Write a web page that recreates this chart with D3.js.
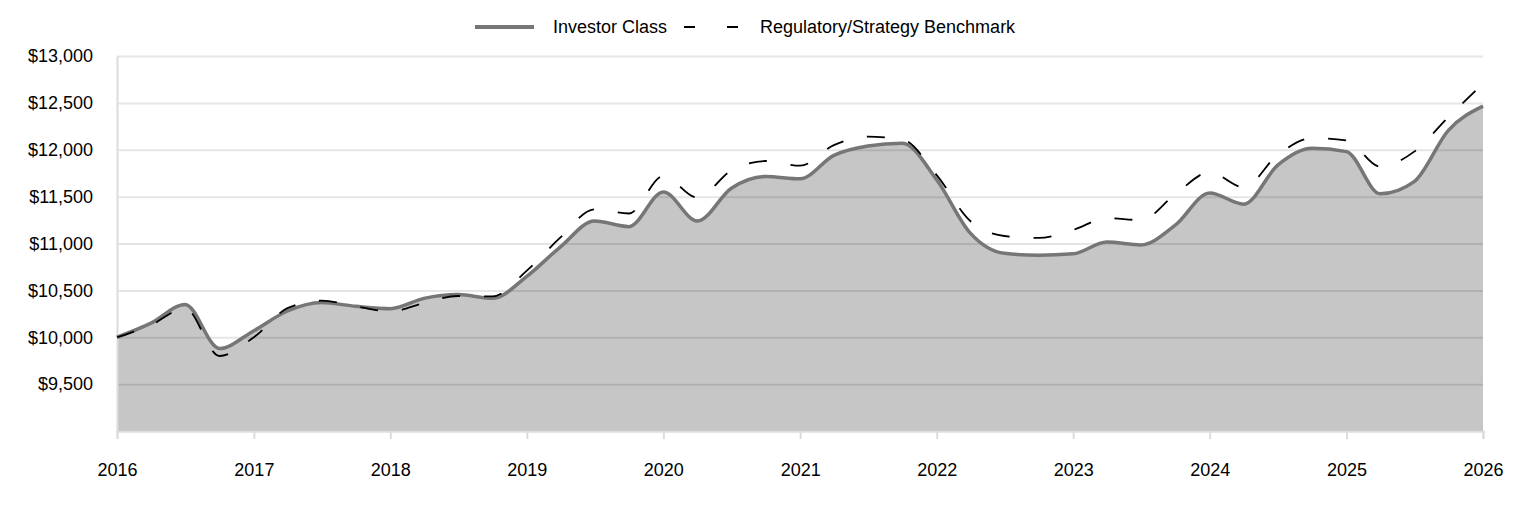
<!DOCTYPE html>
<html>
<head>
<meta charset="utf-8">
<script src="https://cdn.jsdelivr.net/npm/d3@7"></script>
<style>
    body { margin: 0; background: #fff; }
    svg text { font-family: Arial, "Liberation Sans", sans-serif; fill: #000; }
</style>
</head>
<body>
<svg id="chart" width="1524" height="516"></svg>
<script>
// quarter ends
const dates = [
    '2016-01-01', '2016-04-01', '2016-07-01', '2016-10-01',
    '2017-01-01', '2017-04-01', '2017-07-01', '2017-10-01',
    '2018-01-01', '2018-04-01', '2018-07-01', '2018-10-01',
    '2019-01-01', '2019-04-01', '2019-07-01', '2019-10-01',
    '2020-01-01', '2020-04-01', '2020-07-01', '2020-10-01',
    '2021-01-01', '2021-04-01', '2021-07-01', '2021-10-01',
    '2022-01-01', '2022-04-01', '2022-07-01', '2022-10-01',
    '2023-01-01', '2023-04-01', '2023-07-01', '2023-10-01',
    '2024-01-01', '2024-04-01', '2024-07-01', '2024-10-01',
    '2025-01-01', '2025-04-01', '2025-07-01', '2025-10-01',
    '2026-01-01'
];

const investorClass = [
    10000, 10150, 10350, 9880,
    10070, 10280, 10370, 10330,
    10305, 10415, 10455, 10415,
    10650, 10965, 11240, 11180,
    11550, 11240, 11590, 11715,
    11690, 11940, 12040, 12070,
    11680, 11110, 10895, 10875,
    10890, 11015, 10985, 11195,
    11540, 11420, 11835, 12015,
    11980, 11530, 11660, 12210,
    12465
];

const benchmark = [
    10000, 10130, 10310, 9800,
    10000, 10310, 10390, 10330,
    10275, 10365, 10440, 10435,
    10710, 11065, 11365, 11320,
    11720, 11490, 11780, 11880,
    11830, 12050, 12140, 12110,
    11730, 11240, 11080, 11060,
    11145, 11270, 11250, 11525,
    11760, 11600, 11945, 12125,
    12100, 11820, 11980, 12350,
    12705
];

const yearTicks = ['2016', '2017', '2018', '2019', '2020', '2021', '2022', '2023', '2024', '2025', '2026'];
const dollarTicks = [9500, 10000, 10500, 11000, 11500, 12000, 12500, 13000];
const gridTicks = [9000, 9500, 10000, 10500, 11000, 11500, 12000, 12500, 13000];

const parse = d3.timeParse('%Y-%m-%d');
const data = dates.map((d, i) => ({
    date: parse(d),
    fund: investorClass[i],
    bench: benchmark[i]
}));

const svg = d3.select('#chart');

const plotLeft = 117, plotRight = 1483, plotTop = 56, plotBottom = 431;

const xScale = d3.scaleTime()
    .domain([parse('2016-01-01'), parse('2026-01-01')])
    .range([plotLeft, plotRight]);

const yScale = d3.scaleLinear()
    .domain([9000, 13000])
    .range([plotBottom, plotTop]);

// shaded area under the fund line
const area = d3.area()
    .curve(d3.curveMonotoneX)
    .x((d) => xScale(d.date))
    .y0(yScale(9000))
    .y1((d) => yScale(d.fund));

svg.append('path')
    .datum(data)
    .attr('d', area)
    .attr('fill', '#c6c6c6');

// horizontal grid lines, drawn over the area
svg.append('g')
    .attr('class', 'grid')
    .attr('transform', `translate(${plotLeft}, 0)`)
    .call(d3.axisLeft(yScale)
        .tickValues(gridTicks)
        .tickSize(-(plotRight - plotLeft))
        .tickFormat('')
    )
    .call((g) => g.select('.domain').remove())
    .selectAll('line')
    .attr('stroke', '#000')
    .attr('stroke-opacity', 0.1)
    .attr('stroke-width', 2);

// y axis labels
svg.append('g')
    .attr('class', 'yAxis')
    .attr('transform', `translate(${plotLeft}, 0)`)
    .call(d3.axisLeft(yScale)
        .tickValues(dollarTicks)
        .tickSize(0)
        .tickPadding(24)
        .tickFormat((d) => '$' + d3.format(',')(d))
    )
    .call((g) => g.select('.domain').attr('stroke', '#dcdcdc').attr('stroke-width', 2))
    .selectAll('text')
    .style('font-size', '18px');

// x axis
svg.append('g')
    .attr('class', 'xAxis')
    .attr('transform', `translate(0, ${plotBottom})`)
    .call(d3.axisBottom(xScale)
        .tickValues(yearTicks.map((y) => parse(y + '-01-01')))
        .tickSize(8)
        .tickPadding(24)
        .tickFormat(d3.timeFormat('%Y'))
    )
    .call((g) => g.select('.domain').attr('stroke', '#dcdcdc').attr('stroke-width', 2))
    .call((g) => g.selectAll('.tick line').attr('stroke', '#dcdcdc').attr('stroke-width', 2))
    .selectAll('text')
    .style('font-size', '18px');

const line = (key) => d3.line()
    .curve(d3.curveMonotoneX)
    .x((d) => xScale(d.date))
    .y((d) => yScale(d[key]));

svg.append('path')
    .datum(data)
    .attr('d', line('fund'))
    .attr('fill', 'none')
    .attr('stroke', '#767676')
    .attr('stroke-width', 3.5);

svg.append('path')
    .datum(data)
    .attr('d', line('bench'))
    .attr('fill', 'none')
    .attr('stroke', '#000')
    .attr('stroke-width', 1.8)
    .attr('stroke-dasharray', '18,24');

// legend
const legend = svg.append('g').attr('class', 'legend');

legend.append('line')
    .attr('x1', 475).attr('x2', 534)
    .attr('y1', 27).attr('y2', 27)
    .attr('stroke', '#767676')
    .attr('stroke-width', 4);

legend.append('text')
    .attr('x', 553)
    .attr('y', 27)
    .attr('dy', '0.35em')
    .style('font-size', '18px')
    .text('Investor Class');

legend.append('line')
    .attr('x1', 684).attr('x2', 739)
    .attr('y1', 27).attr('y2', 27)
    .attr('stroke', '#000')
    .attr('stroke-width', 1.8)
    .attr('stroke-dasharray', '11,32');

legend.append('text')
    .attr('x', 760)
    .attr('y', 27)
    .attr('dy', '0.35em')
    .style('font-size', '18px')
    .text('Regulatory/Strategy Benchmark');
</script>
</body>
</html>
